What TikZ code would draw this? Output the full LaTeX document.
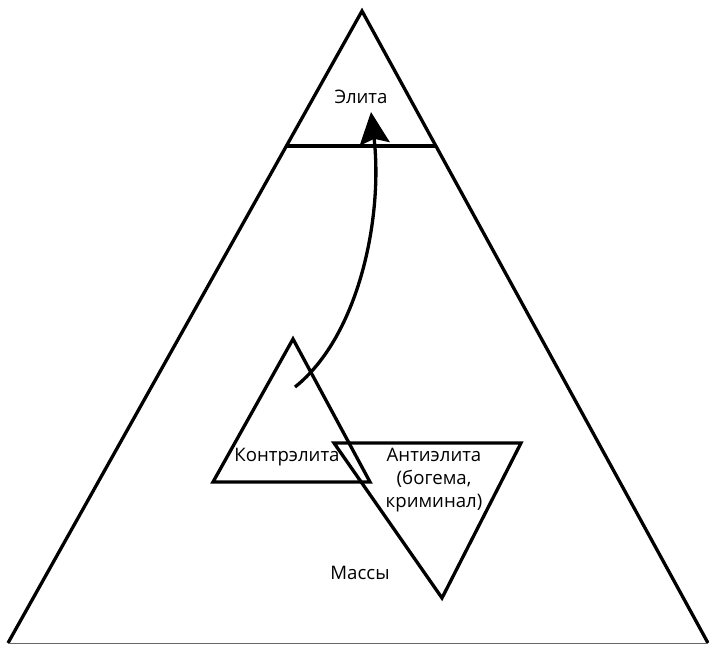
\documentclass[tikz,border=0pt]{standalone}
\usepackage{fontspec}
\setmainfont{Open Sans}
\usetikzlibrary{arrows.meta}
\begin{document}
\begin{tikzpicture}[x=1pt,y=-1pt,
  edge/.style={line width=3.3pt,line join=miter},
  lbl/.style={inner sep=0pt,font=\fontsize{18.6}{23}\selectfont,align=center},
  upflow/.style={line width=3.3pt,-{Stealth[length=32pt,width=30pt,inset=5pt]}}]
\useasboundingbox (0,0) rectangle (709,645);
% outer pyramid
\coordinate (top) at (362,11);
\coordinate (bl) at (8,643);
\coordinate (br) at (708,643);
\draw[edge] (bl) -- (top) -- (br);
\draw[line width=1pt,black!60] (bl) -- (br);
% elite boundary
\coordinate (el) at (286,146);
\coordinate (er) at (437,146);
\draw[edge] (el) -- (er);
% counter-elite triangle
\coordinate (ca) at (293,339);
\coordinate (cl) at (213,482);
\coordinate (cr) at (370,482);
\draw[edge] (ca) -- (cl) -- (cr) -- cycle;
% anti-elite triangle (inverted)
\coordinate (al) at (334,443);
\coordinate (ar) at (521,443);
\coordinate (ab) at (442,598);
\draw[edge] (al) -- (ar) -- (ab) -- cycle;
% labels
\node[lbl] (elite) at (361,97) {Элита};
\node[lbl] (contra) at (287,457) {Контрэлита};
\node[lbl] (anti) at (434,480) {Антиэлита\\(богема,\\криминал)};
\node[lbl] (mass) at (360,573) {Массы};
% rise from counter-elite to elite
\coordinate (rs) at (295,387);
\coordinate (re) at (371,112);
\draw[upflow] (rs) .. controls (360,335) and (383,215) .. (re);
\end{tikzpicture}
\end{document}
